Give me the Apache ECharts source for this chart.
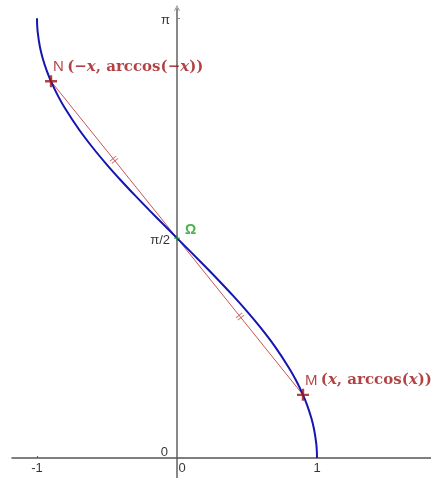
<!DOCTYPE html>
<html><head><meta charset="utf-8">
<script src="https://cdn.jsdelivr.net/npm/echarts@6/dist/echarts.min.js"></script>
<style>html,body{margin:0;padding:0;background:#fff}#c{width:431px;height:478px}</style>
</head><body><div id="c"></div>
<script>
// curve samples (x, arccos x)
const curveX = [-1, -0.999, -0.995, -0.98, -0.96, -0.93, -0.9, -0.85, -0.8, -0.7, -0.6, -0.5, -0.4, -0.3, -0.2, -0.1, 0, 0.1, 0.2, 0.3, 0.4, 0.5, 0.6, 0.7, 0.8, 0.85, 0.9, 0.93, 0.96, 0.98, 0.995, 0.999, 1];
const curveY = [3.1416, 3.0969, 3.0415, 2.9413, 2.8578, 2.7652, 2.6906, 2.5868, 2.4981, 2.3462, 2.2143, 2.0944, 1.9823, 1.8755, 1.7722, 1.6710, 1.5708, 1.4706, 1.3694, 1.2661, 1.1593, 1.0472, 0.9273, 0.7954, 0.6435, 0.5548, 0.4510, 0.3764, 0.2838, 0.2003, 0.1001, 0.0447, 0];
// points N, M and centre Omega
const pointNames = ['N', 'M'];
const pointX = [-0.9, 0.9];
const pointY = [2.6906, 0.4510];
const omega = [0, 1.5708];
// midpoints of N-Omega and Omega-M (equal-length marks)
const midX = [-0.45, 0.45];
const midY = [2.1307, 1.0109];
// tick labels
const xTicks = [-1, 0, 1];
const xTickLabels = ['-1', '0', '1'];
const yTicks = [0, Math.PI / 2, Math.PI];
const yTickLabels = ['0', 'π/2', 'π'];

const chart = echarts.init(document.getElementById('c'), null, {renderer: 'canvas'});
const red = '#9e1416';
const plus = 'path://M4,0 L6,0 L6,4 L10,4 L10,6 L6,6 L6,10 L4,10 L4,6 L0,6 L0,4 L4,4 Z';
const chevron = 'path://M0,10 L5,0 L10,10 L8.6,10 L5,2.8 L1.4,10 Z';
const serif = "'DejaVu Serif','Liberation Serif',serif";
const sans = "'Liberation Sans','DejaVu Sans',sans-serif";
const labelRich = {
  s: {fontFamily: sans, fontSize: 15, color: red},
  p: {fontFamily: serif, fontSize: 15, fontWeight: 'bold', color: red},
  i: {fontFamily: serif, fontSize: 15, fontWeight: 'bold', fontStyle: 'italic', color: red}
};
const labelTexts = {
  N: '{s|N} {p|(−}{i|x}{p|, arccos(−}{i|x}{p|))}',
  M: '{s|M} {p|(}{i|x}{p|, arccos(}{i|x}{p|))}'
};
const tickText = {color: '#000', fontFamily: sans, fontSize: 13};

chart.setOption({
  animation: false,
  grid: {left: 12, right: 0, top: 9, bottom: 0, containLabel: false, outerBoundsMode: 'none'},
  xAxis: {
    type: 'value', min: (12 - 177) / 140, max: (431 - 177) / 140,
    splitLine: {show: false},
    axisLine: {show: true, onZero: true, lineStyle: {color: '#555', width: 1.5}},
    axisTick: {show: true, customValues: [-1], length: 2, inside: true, lineStyle: {color: '#555'}},
    axisLabel: {show: false}
  },
  yAxis: {
    type: 'value', min: -20 / 140, max: 449 / 140,
    splitLine: {show: false},
    axisLine: {show: true, onZero: true, symbol: ['none', chevron], symbolSize: [10, 6], symbolOffset: [0, 1], lineStyle: {color: '#888', width: 2}},
    axisTick: {show: true, customValues: [Math.PI], length: 3, inside: true, lineStyle: {color: '#888'}},
    axisLabel: {show: false}
  },
  series: [
    {
      type: 'line', data: curveX.map((x, i) => [x, curveY[i]]), smooth: 0.3,
      showSymbol: false, lineStyle: {color: '#1515b0', width: 2}, z: 3
    },
    {
      type: 'line', data: [[pointX[0], pointY[0]], [pointX[1], pointY[1]]],
      showSymbol: false, lineStyle: {color: '#c85454', width: 1}, z: 2
    },
    {
      type: 'scatter', data: midX.map((x, i) => [x, midY[i]]),
      symbol: 'path://M0,0 L1,0 L1,8 L0,8 Z M3,0 L4,0 L4,8 L3,8 Z', symbolSize: [4, 8],
      symbolRotate: -Math.atan2(pointY[0] - pointY[1], pointX[1] - pointX[0]) * 180 / Math.PI,
      itemStyle: {color: '#c85454'}, z: 4
    },
    {
      type: 'scatter', data: [omega], symbol: plus, symbolSize: 6,
      itemStyle: {color: '#1f9e1f'}, z: 6,
      label: {show: true, position: [11, -12], formatter: 'Ω', color: '#1f9e1f', fontFamily: sans, fontSize: 14, fontWeight: 'bold'}
    },
    {
      type: 'scatter', data: pointX.map((x, i) => ({value: [x, pointY[i]], name: pointNames[i]})),
      symbol: plus, symbolSize: 12, itemStyle: {color: red}, z: 7,
      label: {show: true, position: [8, -16], formatter: p => labelTexts[p.name], rich: labelRich}
    },
    {
      type: 'scatter', symbolSize: 0, silent: true, z: 8,
      data: xTicks.map((v, i) => ({value: [v, 0], name: xTickLabels[i], label: v === 0 ? {offset: [5, 0]} : {}})),
      label: Object.assign({show: true, position: 'bottom', distance: 4, formatter: p => p.name}, tickText)
    },
    {
      type: 'scatter', symbolSize: 0, silent: true, z: 8,
      data: yTicks.map((v, i) => ({value: [0, v], name: yTickLabels[i], label: v === 0 ? {offset: [-2, -6]} : {offset: [0, 2]}})),
      label: Object.assign({show: true, position: 'left', distance: 7, formatter: p => p.name}, tickText)
    }
  ]
});
</script></body></html>
